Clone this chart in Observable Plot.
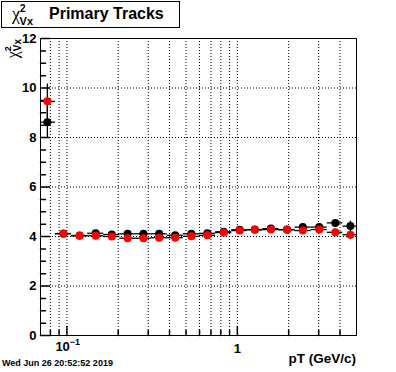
<!DOCTYPE html>
<html>
<head>
<meta charset="utf-8">
<script src="https://cdn.jsdelivr.net/npm/d3@7"></script>
<script src="https://cdn.jsdelivr.net/npm/@observablehq/plot@0.6"></script>
<style>
  html, body { margin: 0; padding: 0; background: white; }
  #chart { width: 396px; height: 372px; }
</style>
</head>
<body>
<div id="chart"></div>
<script>
// ---- data ----
const pT = [0.0768, 0.0954, 0.1187, 0.1475, 0.1834, 0.2271, 0.2811, 0.3476, 0.4320, 0.5372,
            0.6678, 0.8323, 1.032, 1.265, 1.573, 1.955, 2.421, 3.021, 3.755, 4.606];
const binEdges = [0.07, 0.0857, 0.1065, 0.1323, 0.1645, 0.2042, 0.2528, 0.3126, 0.3876, 0.4817, 0.5989,
                  0.7455, 0.9267, 1.143, 1.411, 1.754, 2.177, 2.706, 3.370, 4.159, 5.0];
const chi2Black = [8.62, 4.12, 4.04, 4.13, 4.08, 4.11, 4.11, 4.11, 4.05, 4.11,
                   4.13, 4.19, 4.27, 4.28, 4.32, 4.28, 4.38, 4.38, 4.55, 4.42];
const errBlack  = [0.65, 0.05, 0.05, 0.05, 0.05, 0.05, 0.05, 0.05, 0.05, 0.05,
                   0.05, 0.05, 0.05, 0.06, 0.06, 0.07, 0.08, 0.10, 0.13, 0.20];
const chi2Red   = [9.46, 4.11, 4.03, 4.03, 4.00, 3.93, 3.93, 3.95, 3.95, 4.01,
                   4.05, 4.16, 4.24, 4.27, 4.28, 4.27, 4.24, 4.28, 4.17, 4.07];
const errRed    = [0.70, 0.05, 0.05, 0.05, 0.05, 0.05, 0.05, 0.05, 0.05, 0.05,
                   0.05, 0.05, 0.05, 0.06, 0.06, 0.07, 0.08, 0.10, 0.13, 0.20];

const xGrid  = [0.08, 0.09, 0.1, 0.2, 0.3, 0.4, 0.5, 0.6, 0.7, 0.8, 0.9, 1, 2, 3, 4];
const xMajor = [0.1, 1];
const xMinor = [0.08, 0.09, 0.2, 0.3, 0.4, 0.5, 0.6, 0.7, 0.8, 0.9, 2, 3, 4];
const yMajor = [0, 2, 4, 6, 8, 10, 12];
const yGrid  = [2, 4, 6, 8, 10];
const yMinor = [0.5, 1, 1.5, 2.5, 3, 3.5, 4.5, 5, 5.5, 6.5, 7, 7.5, 8.5, 9, 9.5, 10.5, 11, 11.5];

const titleText = "Primary Tracks";
const xTitle = "pT (GeV/c)";
const dateText = "Wed Jun 26 20:52:52 2019";

// ---- table ----
const rows = pT.map((x, i) => ({
  x, lo: binEdges[i], hi: binEdges[i + 1],
  yb: chi2Black[i], eb: errBlack[i],
  yr: chi2Red[i], er: errRed[i]
}));

const font = "'Liberation Sans', Arial, Helvetica, sans-serif";
const lineShape = { draw(context, l) { context.moveTo(0, 0); context.lineTo(0, -l); } };

const plot = Plot.plot({
  width: 396,
  height: 372,
  marginLeft: 40,
  marginRight: 40,
  marginTop: 38,
  marginBottom: 37,
  style: { background: "white", fontFamily: font, color: "black" },
  x: { type: "log", domain: [0.07, 5], axis: null },
  y: { domain: [0, 12], axis: null },
  marks: [
    Plot.ruleX(xGrid, { stroke: "black", strokeDasharray: "1,2", strokeWidth: 1 }),
    Plot.ruleY(yGrid, { stroke: "black", strokeDasharray: "1,2", strokeWidth: 1 }),
    // ticks inside the frame
    Plot.vector(yMajor, { x: 0.07, y: d => d, rotate: 90, length: 9, anchor: "start", stroke: "black", shape: lineShape }),
    Plot.vector(yMinor, { x: 0.07, y: d => d, rotate: 90, length: 5, anchor: "start", stroke: "black", shape: lineShape }),
    Plot.vector(xMajor, { x: d => d, y: 0, rotate: 0, length: 9, anchor: "start", stroke: "black", shape: lineShape }),
    Plot.vector(xMinor, { x: d => d, y: 0, rotate: 0, length: 5, anchor: "start", stroke: "black", shape: lineShape }),
    // y tick labels
    Plot.text(yMajor, { x: 0.07, y: d => d, text: d => String(d), textAnchor: "end", dx: -4,
      fontSize: 13, fontWeight: "bold", fill: "black" }),
    Plot.text(xMajor.filter(d => d === 1), { x: d => d, y: 0, text: d => "1", dy: 13,
      fontSize: 13, fontWeight: "bold", fill: "black" }),
    // error bars: black series
    Plot.ruleY(rows, { y: "yb", x1: "lo", x2: "hi", stroke: "black", strokeWidth: 1.3 }),
    Plot.ruleX(rows, { x: "x", y1: d => d.yb - d.eb, y2: d => d.yb + d.eb, stroke: "black", strokeWidth: 1.3 }),
    // error bars: red series (black lines)
    Plot.ruleY(rows, { y: "yr", x1: "lo", x2: "hi", stroke: "black", strokeWidth: 1.3 }),
    Plot.ruleX(rows, { x: "x", y1: d => d.yr - d.er, y2: d => d.yr + d.er, stroke: "black", strokeWidth: 1.3 }),
    Plot.dot(rows, { x: "x", y: "yb", r: 4, fill: "black" }),
    Plot.dot(rows, { x: "x", y: "yr", r: 4, fill: "red" }),
    Plot.frame({ stroke: "black", strokeWidth: 1 })
  ]
});

document.getElementById("chart").appendChild(plot);

const svg = d3.select(plot);
const sx = plot.scale("x");
const sy = plot.scale("y");

// 10^-1 label
{
  const px = sx.apply(0.1);
  const py = sy.apply(0) + 13;
  const t = svg.append("text")
    .attr("x", px - 11).attr("y", py)
    .attr("text-anchor", "start")
    .attr("font-family", font).attr("font-weight", "bold").attr("font-size", 13)
    .attr("fill", "black").attr("dominant-baseline", "middle");
  t.append("tspan").text("10");
  t.append("tspan").attr("font-size", 9).attr("dy", -5).text("\u22121");
}

// x title
svg.append("text")
  .attr("x", 356).attr("y", 363)
  .attr("text-anchor", "end")
  .attr("font-family", font).attr("font-weight", "bold").attr("font-size", 13.5)
  .attr("fill", "black").text(xTitle);

// y title (rotated)
{
  const g = svg.append("g").attr("transform", "translate(18,39) rotate(-90)");
  const t = g.append("text").attr("text-anchor", "end").attr("fill", "black");
  t.append("tspan").attr("font-family", "'Liberation Serif', 'Times New Roman', serif")
    .attr("font-size", 16).text("\u03c7");
  t.append("tspan").attr("font-family", font).attr("font-weight", "bold")
    .attr("font-size", 9).attr("dy", -7).text("2");
  t.append("tspan").attr("font-family", font).attr("font-weight", "bold")
    .attr("font-size", 10).attr("dx", -5).attr("dy", 10).text("Vx");
}

// title box
svg.append("rect").attr("x", 1.5).attr("y", 1.5).attr("width", 178).attr("height", 26)
  .attr("fill", "white").attr("stroke", "black").attr("stroke-width", 1);
{
  const t = svg.append("text").attr("x", 12).attr("y", 20).attr("text-anchor", "start").attr("fill", "black");
  t.append("tspan").attr("font-family", "'Liberation Serif', 'Times New Roman', serif")
    .attr("font-size", 18).text("\u03c7");
  t.append("tspan").attr("font-family", font).attr("font-weight", "bold")
    .attr("font-size", 10).attr("dy", -8).text("2");
  t.append("tspan").attr("font-family", font).attr("font-weight", "bold")
    .attr("font-size", 11).attr("dx", -6).attr("dy", 13).text("Vx");
  svg.append("text").attr("x", 49).attr("y", 19).attr("text-anchor", "start")
    .attr("font-family", font).attr("font-weight", "bold").attr("font-size", 16)
    .attr("fill", "black").text(titleText);
}

// date stamp
svg.append("text").attr("x", 2).attr("y", 366).attr("text-anchor", "start")
  .attr("font-family", font).attr("font-weight", "bold").attr("font-size", 9)
  .attr("fill", "black").text(dateText);
</script>
</body>
</html>
